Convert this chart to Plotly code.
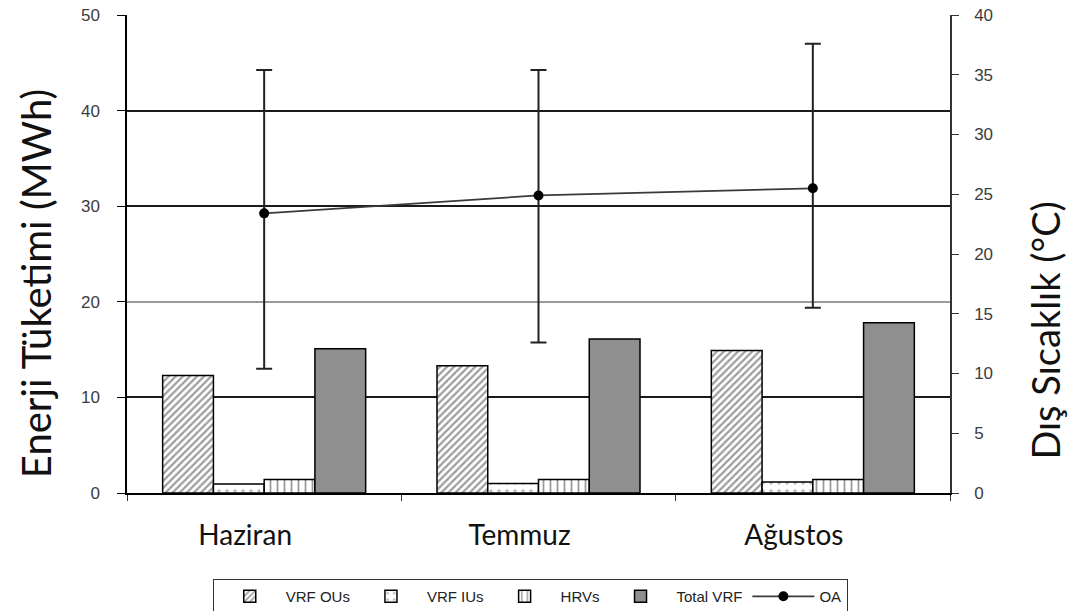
import plotly.graph_objects as go

# Months (categories)
months = ["Haziran", "Temmuz", "Ağustos"]

# Energy consumption per component, MWh
vrf_ous = [12.3, 13.3, 14.9]
vrf_ius = [0.95, 1.0, 1.15]
hrvs = [1.4, 1.4, 1.4]
total_vrf = [15.1, 16.1, 17.8]

# Outdoor air temperature, °C: mean with max/min excursions
oa_mean = [23.4, 24.9, 25.5]
oa_plus = [12.0, 10.5, 12.1]
oa_minus = [13.0, 12.3, 10.0]

tick_font = dict(family="Liberation Sans, Arial", size=17, color="#3c3c3c")
bar_edge = dict(color="black", width=1.5)

fig = go.Figure()

fig.add_trace(go.Bar(
    x=months, y=vrf_ous, name="VRF OUs",
    marker=dict(color="white", line=bar_edge,
                pattern=dict(shape="/", fgcolor="#3a3a3a", bgcolor="white",
                             size=5, solidity=0.45)),
))
fig.add_trace(go.Bar(
    x=months, y=vrf_ius, name="VRF IUs",
    marker=dict(color="white", line=bar_edge,
                pattern=dict(shape=".", fgcolor="#777777", bgcolor="white",
                             size=8, solidity=0.15)),
))
fig.add_trace(go.Bar(
    x=months, y=hrvs, name="HRVs",
    marker=dict(color="white", line=bar_edge,
                pattern=dict(shape="|", fgcolor="#333333", bgcolor="white",
                             size=7, solidity=0.25)),
))
fig.add_trace(go.Bar(
    x=months, y=total_vrf, name="Total VRF",
    marker=dict(color="#8f8f8f", line=bar_edge),
))
fig.add_trace(go.Scatter(
    x=months, y=oa_mean, name="OA", yaxis="y2", mode="lines+markers",
    line=dict(color="#3a3a3a", width=1.8),
    marker=dict(color="black", size=10),
    error_y=dict(type="data", symmetric=False, array=oa_plus,
                 arrayminus=oa_minus, color="#222222", thickness=2, width=8),
))

# invisible carriers so the grid-rule axes get drawn
for ax in ("y3", "y4"):
    fig.add_trace(go.Scatter(x=months, y=total_vrf, yaxis=ax, mode="lines",
                             opacity=0, showlegend=False, hoverinfo="skip"))

fig.update_layout(
    width=1070, height=611,
    margin=dict(l=127, r=120, t=15, b=118, autoexpand=False),
    paper_bgcolor="white", plot_bgcolor="white",
    barmode="group", bargap=0.26, bargroupgap=0,
    showlegend=True,
    legend=dict(orientation="h", x=0.49, xanchor="center", y=-0.18,
                yanchor="top", bordercolor="#333333", borderwidth=1,
                bgcolor="white", itemwidth=62,
                font=dict(family="Liberation Sans, Arial", size=15,
                          color="#222222"),
                tracegroupgap=0),
    xaxis=dict(showline=True, linecolor="black", linewidth=2,
               ticks="outside", tickson="boundaries", ticklen=6,
               tickcolor="#333333", showgrid=False,
               tickfont=dict(family="Lato, Open Sans", size=28,
                             color="#111111"),
               ticklabelshift=-19, ticklabelstandoff=16),
    yaxis=dict(range=[0, 50], tickvals=[0, 10, 20, 30, 40, 50],
               showgrid=False, zeroline=False,
               showline=True, linecolor="black", linewidth=1.5,
               ticks="outside", ticklen=8, tickcolor="black",
               tickfont=tick_font, ticklabelstandoff=14),
    yaxis2=dict(range=[0, 40], tickvals=list(range(0, 41, 5)),
                overlaying="y", side="right", showgrid=False,
                zeroline=False, showline=True, linecolor="#333333",
                linewidth=1.5, ticks="outside", ticklen=7,
                tickcolor="#333333", tickfont=tick_font,
                ticklabelstandoff=12),
    # grid rules: dark at 10/30/40, light at 20/50
    yaxis3=dict(range=[0, 50], overlaying="y", tickvals=[10, 30, 40],
                showgrid=True, gridcolor="#1a1a1a", gridwidth=1.5,
                showticklabels=False, ticks="", zeroline=False,
                showline=False),
    yaxis4=dict(range=[0, 50], overlaying="y", tickvals=[20, 50],
                showgrid=True, gridcolor="#9a9a9a", gridwidth=1.5,
                showticklabels=False, ticks="", zeroline=False,
                showline=False),
    annotations=[
        dict(text="Enerji Tüketimi (MWh)", xref="paper", yref="paper",
             x=-0.1106, y=0.439, xanchor="center", yanchor="middle",
             textangle=-90, showarrow=False,
             font=dict(family="Lato, Open Sans", size=40, color="#111111")),
        dict(text="Dış Sıcaklık (°C)", xref="paper", yref="paper",
             x=1.115, y=0.339, xanchor="center", yanchor="middle",
             textangle=-90, showarrow=False,
             font=dict(family="Lato, Open Sans", size=38, color="#111111")),
    ],
)

fig.write_html("out.html")
